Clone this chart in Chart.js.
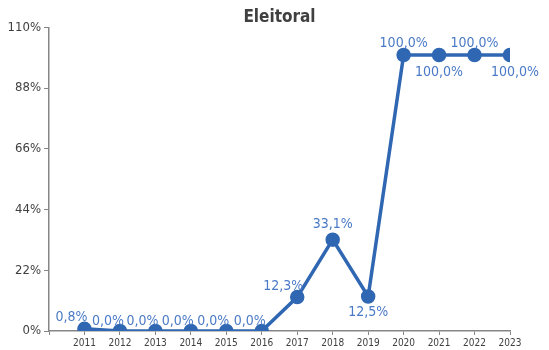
<!DOCTYPE html>
<html>
<head>
<meta charset="utf-8">
<script src="https://cdn.jsdelivr.net/npm/chart.js@4"></script>
<style>
  html, body { margin: 0; padding: 0; background: #fff; }
  #wrap { width: 549px; height: 350px; }
</style>
</head>
<body>
<div id="wrap"><canvas id="Chart_Eleitoral"></canvas></div>
<script>
const years = [2011, 2012, 2013, 2014, 2015, 2016, 2017, 2018, 2019, 2020, 2021, 2022, 2023];
const eleitoral = [0.8, 0.0, 0.0, 0.0, 0.0, 0.0, 12.3, 33.1, 12.5, 100.0, 100.0, 100.0, 100.0];
const yTicks = [0, 22, 44, 66, 88, 110];

const chart_data = years.map((y, i) => ({ x: y, y: eleitoral[i] }));

// posição dos rótulos (dx, dy) em relação ao ponto
const labelOffsets = [
  [-13, -11], [-12, -10], [-13, -10], [-13, -10], [-13, -10], [-12, -10],
  [-14, -11], [0, -15], [0, 16], [0, -12], [0, 17], [0, -12], [5, 17],
];

const fontFamily = "'Liberation Sans Narrow', 'DejaVu Sans Condensed', 'Roboto', sans-serif";

const dataLabels = {
  id: "dataLabels",
  afterDatasetsDraw(chart) {
    const ctx = chart.ctx;
    const meta = chart.getDatasetMeta(0);
    ctx.save();
    ctx.font = "14px " + fontFamily;
    ctx.fillStyle = "#4a7ac6";
    ctx.textAlign = "center";
    ctx.textBaseline = "middle";
    meta.data.forEach((pt, i) => {
      const txt = eleitoral[i].toFixed(1).replace(".", ",") + "%";
      const off = labelOffsets[i];
      ctx.fillText(txt, pt.x + off[0], pt.y + off[1]);
    });
    ctx.restore();
  },
};

new Chart(document.getElementById("Chart_Eleitoral"), {
  type: "line",
  data: {
    datasets: [
      {
        data: chart_data,
        label: "Eleitoral",
        borderColor: "#3067b3",
        backgroundColor: "#3067b3",
        borderWidth: 3.5,
        pointRadius: 5.5,
        pointHoverRadius: 5.5,
        fill: false,
        tension: 0,
      },
    ],
  },
  options: {
    responsive: true,
    maintainAspectRatio: false,
    animation: false,
    layout: { padding: { left: 0, right: 39, top: 0, bottom: 0 } },
    plugins: {
      legend: { display: false },
      tooltip: { enabled: false },
      title: {
        display: true,
        fullSize: false,
        text: "Eleitoral",
        color: "#404040",
        font: { family: fontFamily, size: 17, weight: "bold" },
        padding: { top: 7, bottom: 0 },
      },
    },
    scales: {
      x: {
        type: "linear",
        min: 2010,
        max: 2023,
        afterBuildTicks: (s) => { s.ticks = [2010].concat(years).map((v) => ({ value: v })); },
        afterFit: (s) => { s.height = 19; },
        grid: { display: true, drawOnChartArea: false, tickLength: 4, color: "#868686" },
        border: { color: "#868686", width: 1.5 },
        ticks: {
          color: "#404040",
          font: { family: fontFamily, size: 10 },
          padding: 2,
          maxRotation: 0,
          autoSkip: false,
          callback: (v) => (v === 2010 ? "" : String(v)),
        },
      },
      y: {
        min: 0,
        max: 110,
        afterBuildTicks: (s) => { s.ticks = yTicks.map((v) => ({ value: v })); },
        afterFit: (s) => { s.width = 49; },
        grid: { display: true, drawOnChartArea: false, tickLength: 5, color: "#868686" },
        border: { color: "#868686", width: 1.5 },
        ticks: {
          color: "#404040",
          font: { family: fontFamily, size: 13 },
          padding: 3,
          callback: (v) => v + "%",
        },
      },
    },
  },
  plugins: [dataLabels],
});
</script>
</body>
</html>
